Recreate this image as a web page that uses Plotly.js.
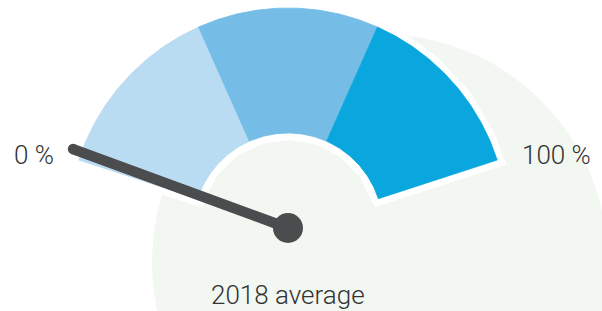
<!DOCTYPE html>
<html>
<head>
<meta charset="utf-8">
<script src="https://cdn.plot.ly/plotly-3.0.1.min.js"></script>
<style>
html,body{margin:0;padding:0;background:#ffffff;}
#chart{width:602px;height:311px;}
</style>
</head>
<body>
<div id="chart"></div>
<script>
// ---- data ----
const segmentNames = ["Low", "Medium", "High"];
const segmentShares = [33.33, 33.33, 33.34];   // % of the dial each band covers
const needleValue = 1.5;                        // % (2018 average)
const scaleMin = 0;
const scaleMax = 100;
const scaleLabels = ["0 %", "100 %"];
const caption = "2018 average";

// ---- style / geometry ----
const segmentColors = ["#badcf3", "#75bde7", "#0aa6de"];
const START_DEG = 162, END_DEG = 18;
const R_OUT = 220, R_IN = 95;
const NEEDLE_LEN = 229;
const needleColor = "#4b4c4e";
const bgCircleColor = "#f2f7f1";
const font = {family: "Roboto, Liberation Sans, Arial, sans-serif", size: 26, weight: 300, color: "#333333"};

const rad = d => d * Math.PI / 180;
function angleFor(v) {
  return START_DEG - (v - scaleMin) / (scaleMax - scaleMin) * (START_DEG - END_DEG);
}
function sector(a0, a1, rIn, rOut) {
  const xs = [], ys = [], n = 80;
  for (let i = 0; i <= n; i++) {
    const a = rad(a0 + (a1 - a0) * i / n);
    xs.push(rOut * Math.cos(a)); ys.push(rOut * Math.sin(a));
  }
  for (let i = n; i >= 0; i--) {
    const a = rad(a0 + (a1 - a0) * i / n);
    xs.push(rIn * Math.cos(a)); ys.push(rIn * Math.sin(a));
  }
  xs.push(xs[0]); ys.push(ys[0]);
  return {xs, ys};
}

const traces = [];
// white outline behind the whole dial
const full = sector(angleFor(scaleMin), angleFor(scaleMax), R_IN, R_OUT);
traces.push({type: "scatter", mode: "lines", x: full.xs, y: full.ys, fill: "toself",
  fillcolor: "#ffffff", line: {color: "#ffffff", width: 14}, hoverinfo: "skip"});

// coloured bands
let acc = scaleMin;
segmentShares.forEach((share, i) => {
  const s = sector(angleFor(acc), angleFor(acc + share), R_IN, R_OUT);
  acc += share;
  traces.push({type: "scatter", mode: "lines", name: segmentNames[i], x: s.xs, y: s.ys,
    fill: "toself", fillcolor: segmentColors[i],
    line: {color: segmentColors[i], width: 0.8}, hoverinfo: "skip"});
});

// needle
const na = rad(angleFor(needleValue));
const tipX = NEEDLE_LEN * Math.cos(na), tipY = NEEDLE_LEN * Math.sin(na);
traces.push({type: "scatter", mode: "lines", x: [0, tipX], y: [0, tipY],
  line: {color: needleColor, width: 10.5}, hoverinfo: "skip"});
traces.push({type: "scatter", mode: "markers", x: [tipX], y: [tipY],
  marker: {color: needleColor, size: 10.5, line: {width: 0}}, hoverinfo: "skip"});
traces.push({type: "scatter", mode: "markers", x: [0], y: [0],
  marker: {color: needleColor, size: 30, line: {width: 0}}, hoverinfo: "skip"});

const la0 = rad(angleFor(scaleMin) + 2.0), la1 = rad(angleFor(scaleMax) - 2.8);
const layout = {
  width: 602, height: 311,
  margin: {l: 0, r: 0, t: 0, b: 0},
  paper_bgcolor: "#ffffff", plot_bgcolor: "rgba(0,0,0,0)",
  showlegend: false, hovermode: false,
  xaxis: {range: [-288, 314], visible: false, fixedrange: true},
  yaxis: {range: [-83, 228], visible: false, fixedrange: true},
  shapes: [{type: "circle", xref: "x", yref: "y", layer: "below",
    x0: 92 - 228, x1: 92 + 228, y0: -34 - 228, y1: -34 + 228,
    fillcolor: bgCircleColor, line: {width: 0}}],
  annotations: [
    {x: 264 * Math.cos(la0), y: 264 * Math.sin(la0), text: scaleLabels[0], showarrow: false,
     xref: "x", yref: "y", font: font, xanchor: "center", yanchor: "middle"},
    {x: 278 * Math.cos(la1), y: 278 * Math.sin(la1), text: scaleLabels[1], showarrow: false,
     xref: "x", yref: "y", font: font, xanchor: "center", yanchor: "middle"},
    {x: 0, y: -67, text: caption, showarrow: false, xref: "x", yref: "y", font: font,
     xanchor: "center", yanchor: "middle"}
  ]
};
Plotly.newPlot("chart", traces, layout, {staticPlot: true, displayModeBar: false});
</script>
</body>
</html>
